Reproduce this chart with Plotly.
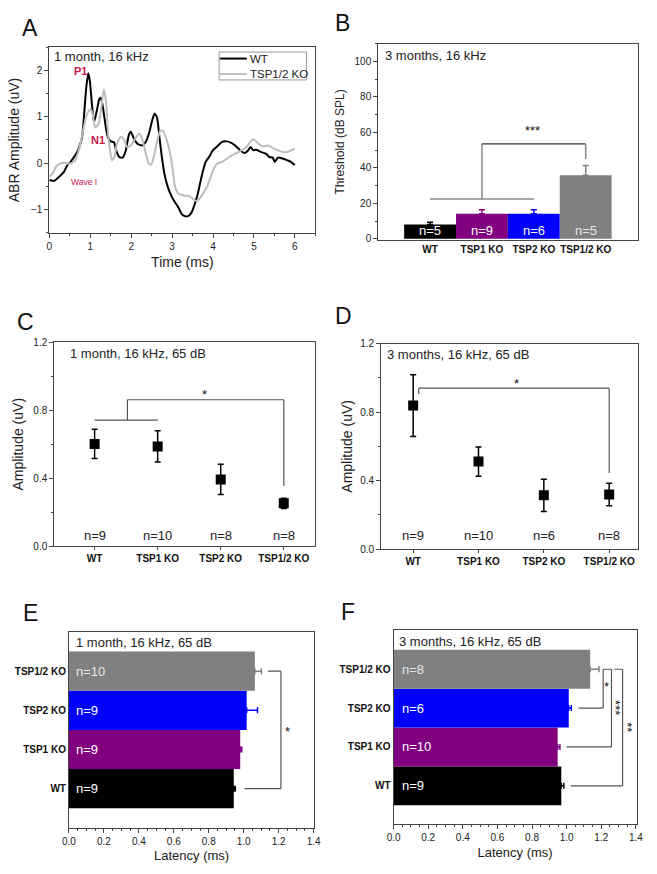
import plotly.graph_objects as go

# ---------------- data ----------------
groups = ["WT", "TSP1 KO", "TSP2 KO", "TSP1/2 KO"]

# Panel A: ABR waveforms (1 month, 16 kHz)
t_wt = [0.00,0.12,0.24,0.36,0.44,0.52,0.60,0.68,0.73,0.80,0.85,0.90,0.95,0.99,1.04,1.09,1.16,1.22,1.26,1.31,
        1.38,1.43,1.50,1.58,1.63,1.71,1.79,1.87,1.94,1.99,2.07,2.15,2.27,2.35,2.43,2.51,2.57,2.63,2.69,2.75,
        2.81,2.89,2.99,3.07,3.15,3.23,3.31,3.39,3.47,3.55,3.63,3.72,3.82,3.90,4.00,4.10,4.22,4.34,4.46,4.58,
        4.66,4.78,4.86,4.92,4.98,5.06,5.18,5.30,5.38,5.46,5.51,5.59,5.70,5.82,5.90,6.00]
v_wt = [-0.36,-0.38,-0.29,-0.18,-0.04,0.03,0.13,0.24,0.35,0.56,1.06,1.62,1.94,1.77,1.27,0.88,1.13,1.38,1.41,1.20,
        0.77,0.56,0.47,0.45,0.28,0.13,0.12,0.28,0.60,0.68,0.52,0.42,0.38,0.45,0.63,0.91,1.07,0.99,0.56,0.13,
        -0.22,-0.50,-0.72,-0.84,-0.95,-1.09,-1.14,-1.14,-1.07,-0.89,-0.65,-0.29,0.03,0.13,0.28,0.36,0.46,0.47,0.43,0.35,
        0.28,0.22,0.28,0.35,0.28,0.29,0.24,0.20,0.13,0.12,0.03,0.12,0.10,0.06,0.03,-0.04]
t_ko = [0.00,0.08,0.16,0.24,0.36,0.48,0.60,0.68,0.76,0.84,0.92,1.00,1.05,1.12,1.20,1.26,1.33,1.39,1.43,1.47,
        1.53,1.59,1.65,1.74,1.82,1.90,1.98,2.07,2.19,2.27,2.35,2.43,2.49,2.55,2.63,2.71,2.77,2.85,2.93,3.00,
        3.07,3.15,3.23,3.31,3.39,3.47,3.55,3.63,3.71,3.78,3.86,3.94,4.02,4.10,4.22,4.34,4.46,4.58,4.70,4.82,
        4.94,5.00,5.10,5.22,5.34,5.46,5.58,5.70,5.82,5.94,6.00]
v_ko = [-0.29,-0.22,-0.08,-0.02,0.01,-0.01,0.03,0.17,0.42,0.77,1.06,1.16,1.09,0.77,0.84,1.13,1.59,1.27,0.70,0.35,
        0.06,0.13,0.42,0.57,0.52,0.35,0.37,0.49,0.64,0.52,0.24,-0.01,-0.03,0.13,0.45,0.70,0.70,0.55,0.30,-0.05,
        -0.50,-0.65,-0.68,-0.70,-0.70,-0.74,-0.80,-0.80,-0.72,-0.62,-0.50,-0.30,-0.12,-0.01,0.03,0.10,0.17,0.22,0.28,0.35,
        0.49,0.51,0.43,0.36,0.38,0.33,0.28,0.24,0.24,0.29,0.30]

# Panel B: thresholds (3 months, 16 kHz)
thr_mean = [8.0, 14.1, 14.1, 35.9]
thr_err = [1.3, 2.3, 2.3, 5.4]
thr_n = [5, 9, 6, 5]

# Panel C: amplitude 1 month
amp1_mean = [0.602, 0.587, 0.393, 0.252]
amp1_err = [0.086, 0.092, 0.089, 0.030]
amp1_n = [9, 10, 8, 8]

# Panel D: amplitude 3 months
amp3_mean = [0.838, 0.511, 0.314, 0.319]
amp3_err = [0.180, 0.085, 0.094, 0.065]
amp3_n = [9, 10, 6, 8]

# Panel E: latency 1 month
lat1_mean = [0.943, 0.980, 1.017, 1.064]
lat1_err = [0.009, 0.009, 0.062, 0.037]
lat1_n = [9, 9, 9, 10]

# Panel F: latency 3 months
lat3_mean = [0.969, 0.948, 1.012, 1.136]
lat3_err = [0.015, 0.013, 0.015, 0.051]
lat3_n = [9, 10, 6, 8]

# ---------------- style ----------------
W, H = 657, 874
FONT = "Liberation Sans, Arial, sans-serif"
bar_colors = ["#000000", "#800080", "#0000FF", "#808080"]
nlab_colors = ["#FFFFFF", "#FFFFFF", "#FFFFFF", "#E6E6E6"]
AXC = "#444444"
MAGENTA = "#C8174E"
WT_COLOR = "black"
KO_COLOR = "#BDBDBD"


def xd(a, b):
    return [a / W, b / W]


def yd(top, bottom):
    return [1 - bottom / H, 1 - top / H]


fig = go.Figure()

# ---- A ----
fig.add_trace(go.Scatter(x=t_wt, y=v_wt, mode="lines", name="WT",
                         line=dict(color=WT_COLOR, width=2, shape="spline", smoothing=0.5),
                         xaxis="x", yaxis="y", showlegend=False))
fig.add_trace(go.Scatter(x=t_ko, y=v_ko, mode="lines", name="TSP1/2 KO",
                         line=dict(color=KO_COLOR, width=2, shape="spline", smoothing=0.5),
                         xaxis="x", yaxis="y", showlegend=False))

# ---- B ----
for i, g in enumerate(groups):
    fig.add_trace(go.Bar(x=[g], y=[thr_mean[i]], width=1, marker=dict(color=bar_colors[i], line=dict(width=0)),
                         error_y=dict(type="data", array=[thr_err[i]], arrayminus=[0], symmetric=False,
                                      color=bar_colors[i], thickness=1.5, width=3),
                         xaxis="x2", yaxis="y2", showlegend=False))

# ---- C / D ----
fig.add_trace(go.Scatter(x=groups, y=amp1_mean, mode="markers",
                         marker=dict(symbol="square", size=10, color="black"),
                         error_y=dict(type="data", array=amp1_err, color="black", thickness=1.5, width=3),
                         xaxis="x3", yaxis="y3", showlegend=False))
fig.add_trace(go.Scatter(x=groups, y=amp3_mean, mode="markers",
                         marker=dict(symbol="square", size=10, color="black"),
                         error_y=dict(type="data", array=amp3_err, color="black", thickness=1.5, width=3),
                         xaxis="x4", yaxis="y4", showlegend=False))

# ---- E / F ----
for (means, errs, xa, ya) in [(lat1_mean, lat1_err, "x5", "y5"), (lat3_mean, lat3_err, "x6", "y6")]:
    for i, g in enumerate(groups):
        fig.add_trace(go.Bar(y=[g], x=[means[i]], orientation="h", width=1,
                             marker=dict(color=bar_colors[i], line=dict(width=0)),
                             error_x=dict(type="data", array=[errs[i]], arrayminus=[0], symmetric=False,
                                          color=bar_colors[i], thickness=1.5, width=3),
                             xaxis=xa, yaxis=ya, showlegend=False))

# ---------------- axes ----------------
def ax(**kw):
    base = dict(showline=True, linecolor=AXC, linewidth=1, mirror=True, ticks="outside", ticklen=4,
                tickwidth=1, tickcolor=AXC, showgrid=False, zeroline=False,
                tickfont=dict(family=FONT, size=10, color="#222"))
    base.update(kw)
    return base


def minor(d):
    return dict(dtick=d, ticks="outside", ticklen=2, tickcolor=AXC, showgrid=False)


catfont = dict(family=FONT, size=10, color="#111", weight="bold")

layout = dict(
    width=W, height=H, margin=dict(l=0, r=0, t=0, b=0),
    paper_bgcolor="white", plot_bgcolor="white", barmode="overlay", showlegend=False,
    font=dict(family=FONT, color="#222"),
    # A
    xaxis=ax(domain=xd(43.3, 315), range=[0, 6.5], dtick=1, minor=minor(0.5), anchor="y",
             title=dict(text="Time (ms)", font=dict(size=14), standoff=6)),
    yaxis=ax(domain=yd(41.7, 230), range=[-1.5, 2.5], dtick=1, minor=minor(0.5), anchor="x",
             title=dict(text="ABR Amplitude (uV)", font=dict(size=14), standoff=8)),
    # B
    xaxis2=ax(domain=xd(379.3, 644.3), type="category", categoryarray=groups, categoryorder="array",
              range=[-1, 4], ticks="", tickfont=catfont, anchor="y2"),
    yaxis2=ax(domain=yd(38.3, 237.3), range=[-0.7, 110], dtick=20, minor=minor(10), anchor="x2",
              title=dict(text="Threshold (dB SPL)", font=dict(size=12), standoff=7)),
    # C
    xaxis3=ax(domain=xd(48.3, 315), type="category", categoryarray=groups, categoryorder="array",
              range=[-0.64, 3.5], ticklen=3, tickfont=catfont, anchor="y3"),
    yaxis3=ax(domain=yd(341, 547.7), range=[0, 1.2], dtick=0.4, tickformat=".1f", minor=minor(0.2),
              anchor="x3", title=dict(text="Amplitude (uV)", font=dict(size=14), standoff=6)),
    # D
    xaxis4=ax(domain=xd(382.3, 645), type="category", categoryarray=groups, categoryorder="array",
              range=[-0.49, 3.445], ticklen=3, tickfont=catfont, anchor="y4"),
    yaxis4=ax(domain=yd(342.3, 550.7), range=[0, 1.2], dtick=0.4, tickformat=".1f", minor=minor(0.2),
              anchor="x4", title=dict(text="Amplitude (uV)", font=dict(size=14), standoff=4)),
    # E
    xaxis5=ax(domain=xd(63.3, 314), range=[0, 1.404], dtick=0.2, tickformat=".1f", minor=minor(0.05),
              anchor="y5", title=dict(text="Latency (ms)", font=dict(size=13), standoff=5)),
    yaxis5=ax(domain=yd(634.3, 833.3), type="category", categoryarray=groups, categoryorder="array",
              range=[-1, 4.01], ticks="", tickfont=catfont, anchor="x5"),
    # F
    xaxis6=ax(domain=xd(395, 643.3), range=[0, 1.404], dtick=0.2, tickformat=".1f", minor=minor(0.05),
              anchor="y6", title=dict(text="Latency (ms)", font=dict(size=13), standoff=5)),
    yaxis6=ax(domain=yd(632.7, 829.3), type="category", categoryarray=groups, categoryorder="array",
              range=[-0.98, 4.01], ticks="", tickfont=catfont, anchor="x6"),
)
fig.update_layout(**layout)

# ---------------- annotations ----------------
ann = []


def A(**kw):
    d = dict(showarrow=False, font=dict(family=FONT, size=13, color="#222"))
    d.update(kw)
    ann.append(d)


def P(x, y):
    return dict(x=x / W, y=1 - y / H, xref="paper", yref="paper")


# panel letters
for letter, (x, y) in zip("ABCDEF", [(23, 22.5), (342.5, 17.5), (19, 320), (344, 314), (24, 615), (348, 614)]):
    A(text=letter, **P(x, y), xanchor="center", yanchor="middle",
      font=dict(family=FONT, size=23, color="#111"))

# panel titles
titles = ["1 month, 16 kHz", "3 months, 16 kHz", "1 month, 16 kHz, 65 dB", "3 months, 16 kHz, 65 dB",
          "1 month, 16 kHz, 65 dB", "3 months, 16 kHz, 65 dB"]
title_pos = [(46, 41.5), (384, 40.5), (62, 343), (386, 344), (68, 636), (398, 635)]
for txt, (x, y) in zip(titles, title_pos):
    A(text=txt, **P(x, y), xanchor="left", yanchor="top", font=dict(family=FONT, size=13, color="#222"))

# legend for panel A
legend_items = [("WT", WT_COLOR, 53.3), ("TSP1/2 KO", KO_COLOR, 69.0)]
for name, col, y in legend_items:
    A(text=name, **P(246.5, y), xanchor="left", yanchor="middle", font=dict(family=FONT, size=11.5, color="#222"))

# A labels
A(text="<b>P1</b>", x=0.76, y=1.98, xref="x", yref="y", font=dict(family=FONT, size=11, color=MAGENTA))
A(text="<b>N1</b>", x=1.2, y=0.49, xref="x", yref="y", font=dict(family=FONT, size=11, color=MAGENTA))
A(text="Wave I", x=0.85, y=-0.4, xref="x", yref="y", font=dict(family=FONT, size=8.5, color=MAGENTA))

# n labels
for i, g in enumerate(groups):
    A(text=f"n={thr_n[i]}", x=i, y=4.6, xref="x2", yref="y2",
      font=dict(family=FONT, size=13, color=nlab_colors[i]))
    A(text=f"n={amp1_n[i]}", x=i, y=0.065, xref="x3", yref="y3", font=dict(family=FONT, size=13, color="#222"))
    A(text=f"n={amp3_n[i]}", x=i, y=0.08, xref="x4", yref="y4", font=dict(family=FONT, size=13, color="#222"))
    A(text=f"n={lat1_n[i]}", x=0.03, y=i, xref="x5", yref="y5", xanchor="left",
      font=dict(family=FONT, size=13, color=nlab_colors[i]))
    A(text=f"n={lat3_n[i]}", x=0.035, y=i, xref="x6", yref="y6", xanchor="left",
      font=dict(family=FONT, size=13, color=nlab_colors[i]))

# significance labels
star = dict(family=FONT, size=13, color="#111")
A(text="***", x=1.98, y=61, xref="x2", yref="y2", font=star)
A(text="*", x=1.75, y=0.89, xref="x3", yref="y3", font=star)
A(text="*", x=1.575, y=0.965, xref="x4", yref="y4", font=star)
A(text="*", x=1.251, y=1.47, xref="x5", yref="y5", font=star)
A(text="*", x=1.233, y=2.55, xref="x6", yref="y6", font=star)
A(text="***", x=1.285, y=2.0, xref="x6", yref="y6", font=star, textangle=90)
A(text="**", x=1.35, y=1.5, xref="x6", yref="y6", font=star, textangle=90)

fig.update_layout(annotations=ann)

# ---------------- brackets & legend frame ----------------
shapes = []


def seg(xr, yr, x0, y0, x1, y1, color="#555", width=1.2):
    shapes.append(dict(type="line", xref=xr, yref=yr, x0=x0, y0=y0, x1=x1, y1=y1,
                       line=dict(color=color, width=width)))


# legend box + samples (panel A)
shapes.append(dict(type="rect", xref="paper", yref="paper", x0=216.7 / W, x1=306 / W,
                   y0=1 - 75 / H, y1=1 - 46.7 / H, line=dict(color="#9a9a9a", width=1), fillcolor="white"))
for name, col, y in legend_items:
    seg("paper", "paper", 217.5 / W, 1 - y / H, 245 / W, 1 - y / H, col, 2)

# B
seg("x2", "y2", 0, 22.5, 2, 22.5, "#888", 1.5)
seg("x2", "y2", 1, 22.5, 1, 53.5, "#888", 1.5)
seg("x2", "y2", 1, 53.5, 3, 53.5, "#333", 1.2)
seg("x2", "y2", 3, 53.5, 3, 45, "#888", 1.5)
# C
seg("x3", "y3", 0, 0.742, 1, 0.742)
seg("x3", "y3", 0.52, 0.742, 0.52, 0.862)
seg("x3", "y3", 0.52, 0.862, 3, 0.862)
seg("x3", "y3", 3, 0.862, 3, 0.354)
# D
seg("x4", "y4", 0.085, 0.906, 0.085, 0.94)
seg("x4", "y4", 0.085, 0.94, 3, 0.94)
seg("x4", "y4", 3, 0.94, 3, 0.445)
# E
seg("x5", "y5", 1.139, 3, 1.213, 3)
seg("x5", "y5", 1.213, 3, 1.213, 0)
seg("x5", "y5", 1.213, 0, 1.005, 0)
# F
seg("x6", "y6", 1.211, 3, 1.259, 3)
seg("x6", "y6", 1.211, 3, 1.211, 2)
seg("x6", "y6", 1.211, 2, 1.068, 2)
seg("x6", "y6", 1.259, 3, 1.259, 1)
seg("x6", "y6", 1.259, 1, 0.999, 1)
seg("x6", "y6", 1.276, 3, 1.323, 3)
seg("x6", "y6", 1.323, 3, 1.323, 0)
seg("x6", "y6", 1.323, 0, 1.023, 0)

fig.update_layout(shapes=shapes)

fig.write_html("out.html", config={"displayModeBar": False},
               post_script="document.body.style.margin='0';document.body.style.overflow='hidden';")
